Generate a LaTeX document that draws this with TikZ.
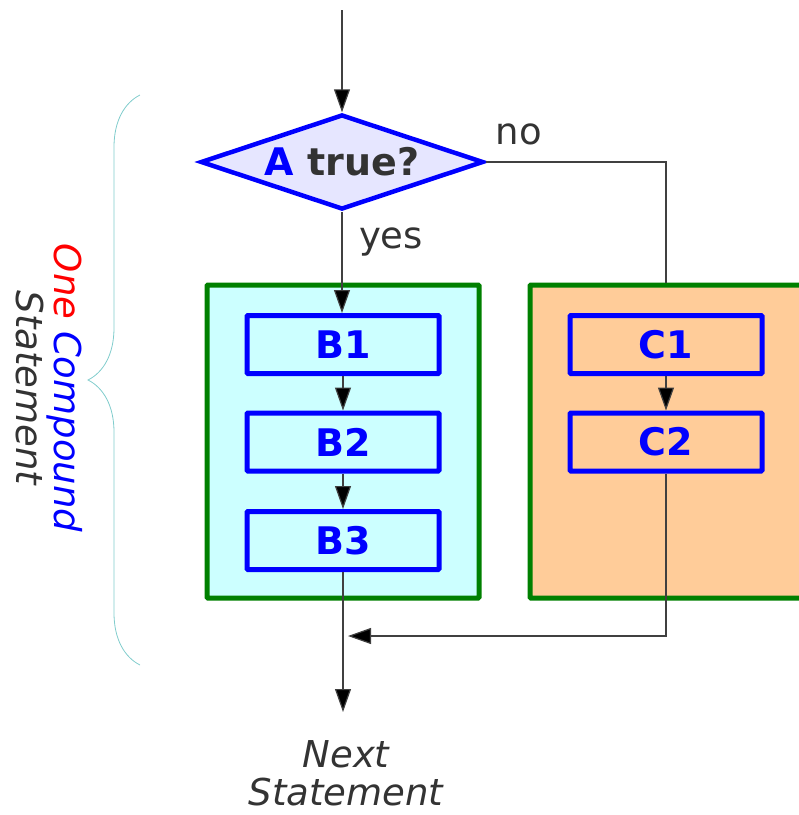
\documentclass[tikz,border=0pt]{standalone}
\usepackage{fontspec}
\setmainfont{DejaVu Sans}
\usetikzlibrary{shapes.geometric,arrows.meta,decorations.pathreplacing}
\definecolor{boxblue}{HTML}{0000FF}
\definecolor{boxgreen}{HTML}{008000}
\definecolor{fillB}{HTML}{CCFFFF}
\definecolor{fillC}{HTML}{FFCC99}
\definecolor{fillA}{HTML}{E6E6FF}
\definecolor{txtgray}{HTML}{333333}
\definecolor{bracecol}{HTML}{80CCCC}
\newcommand{\bigtxt}{\fontsize{38}{44}\selectfont}
\newcommand{\midtxt}{\fontsize{37}{38}\selectfont}

\begin{document}
\begin{tikzpicture}[x=1pt,y=-1pt,
   flow/.style={draw=black!75,line width=1.2pt,-{Triangle[length=23pt,width=16pt,fill=black]}},
   plain/.style={draw=black!75,line width=1.2pt},
   block/.style={draw=boxgreen,line width=5pt,rectangle,rounded corners=1pt,
                 minimum width=272pt,minimum height=313pt,inner sep=0pt},
   stmt/.style={draw=boxblue,line width=5pt,rectangle,rounded corners=1pt,fill=fillB,
                minimum width=192pt,minimum height=58pt,inner sep=0pt,
                text=boxblue,font=\bigtxt\bfseries},
   lbl/.style={text=txtgray,font=\midtxt,inner sep=0pt}]
   \useasboundingbox (0,0) rectangle (799,815);
   % compound blocks
   \node[block,fill=fillB] (blockB) at (343,441.5) {};
   \node[block,fill=fillC] (blockC) at (666,441.5) {};
   % test
   \node[diamond,draw=boxblue,fill=fillA,line width=4.5pt,inner sep=0pt,aspect=2.9,
         minimum width=283pt,minimum height=95pt,font=\bigtxt\bfseries] (test) at (342,162)
         {\textcolor{boxblue}{A} \textcolor{txtgray}{true?}};
   % statements
   \node[stmt] (B1) at (343,344.5) {B1};
   \node[stmt] (B2) at (343,442) {B2};
   \node[stmt] (B3) at (343,540.5) {B3};
   \node[stmt,fill=fillC] (C1) at (666,344.5) {C1};
   \node[stmt,fill=fillC] (C2) at (666,442) {C2};
   \node[lbl] (no)  at (519,134) {no};
   \node[lbl] (yes) at (391,242) {yes};
   \coordinate (start) at (342,10);
   \coordinate (stop)  at (343,712);
   \coordinate (join)  at (348,636);
   \node[lbl,font=\midtxt\itshape,align=center] (next) at (346,773) {Next\\Statement};
   % connectors
   \draw[flow] (start) -- (test.north);
   \draw[flow] (test.south) -- (test.south |- B1.north);
   \draw[plain] (test.east) -| (blockC.north);
   \draw[flow] (B1) -- (B2);
   \draw[flow] (B2) -- (B3);
   \draw[flow] (C1) -- (C2);
   \draw[flow] (B3.south) -- (stop);
   \draw[flow] (C2.south) |- (join);
   % brace
   \draw[bracecol,line width=0.8pt,decorate,decoration={brace,amplitude=52pt}]
     (140,665) -- (140,95);
   \node[rotate=-90,align=center,font=\midtxt\itshape,text=txtgray,inner sep=0pt] (cmp) at (49,388)
     {\textcolor{red}{One} \textcolor{boxblue}{Compound}\\Statement};
\end{tikzpicture}
\end{document}
